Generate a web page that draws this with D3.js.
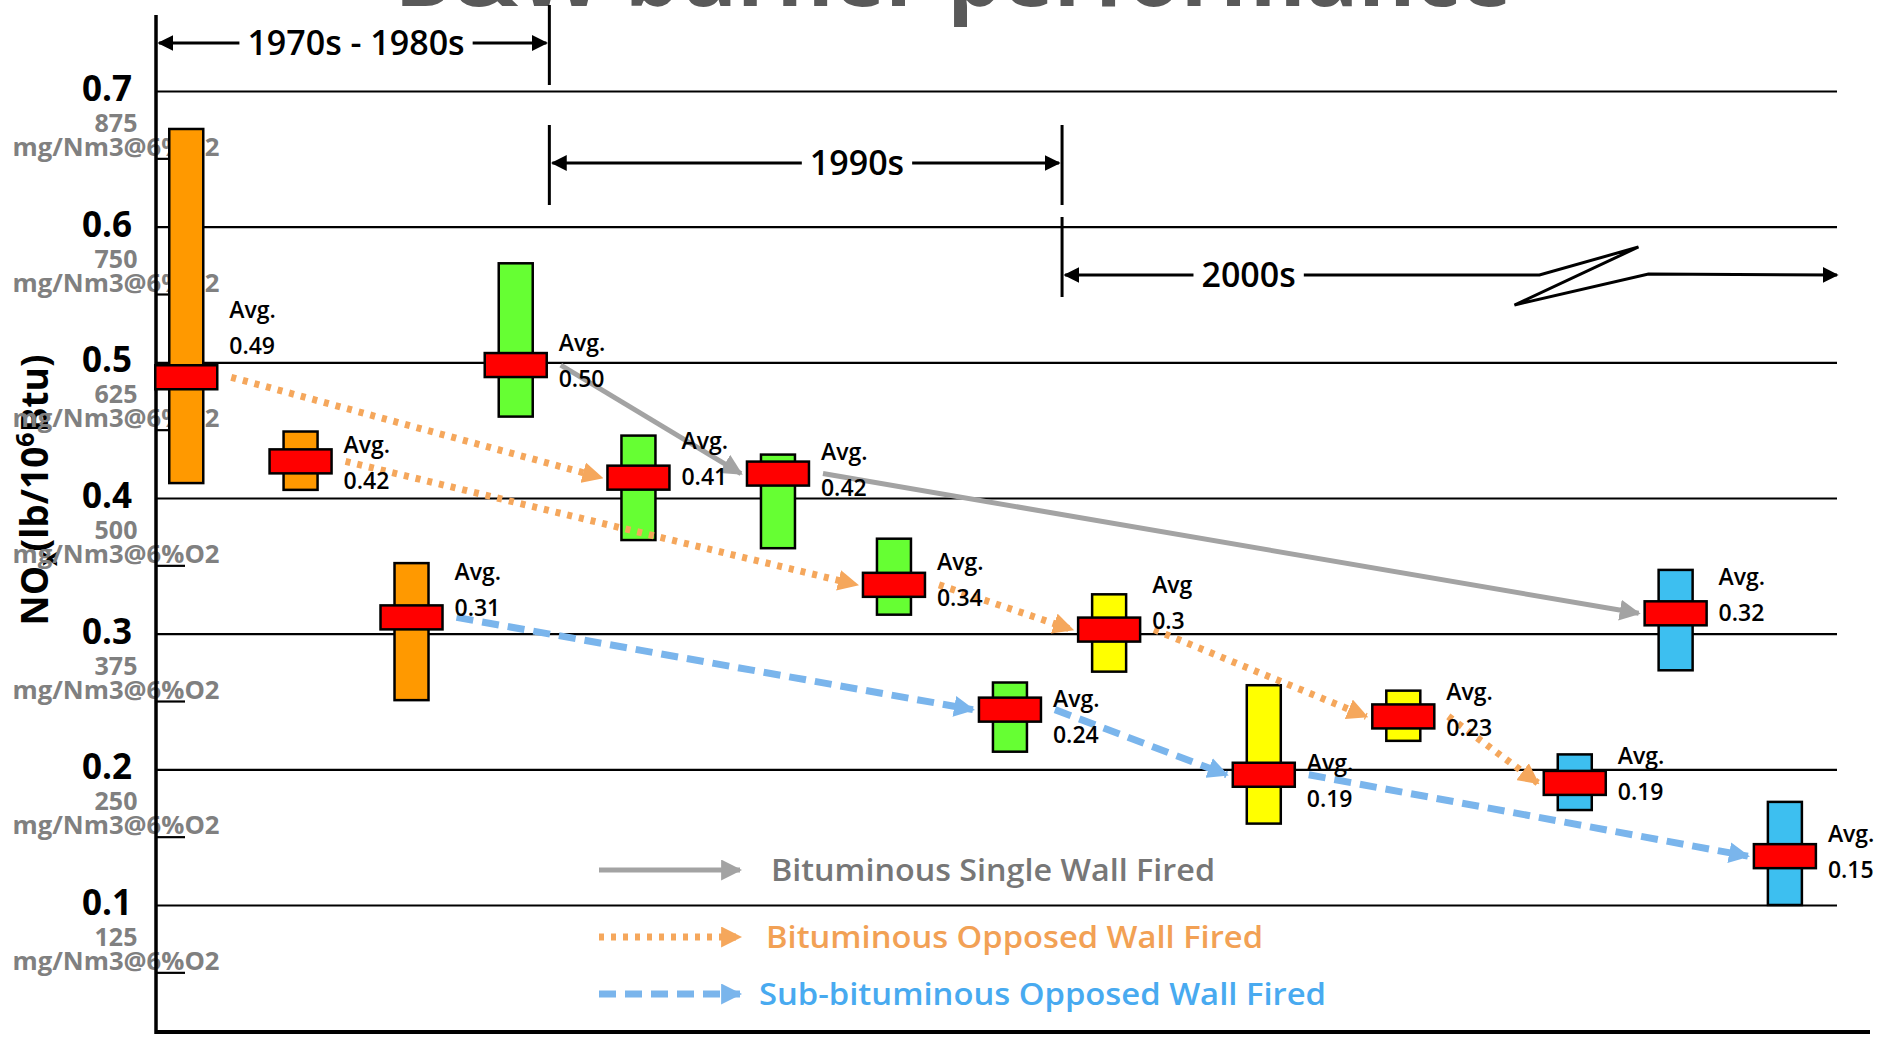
<!DOCTYPE html>
<html>
<head>
<meta charset="utf-8">
<style>
  html, body { margin: 0; padding: 0; background: #fff; overflow: hidden; }
  svg { display: block; font-family: "Open Sans", "Noto Sans", sans-serif; }
</style>
<script src="https://cdn.jsdelivr.net/npm/d3@7"></script>
</head>
<body>
<svg width="1883" height="1037"></svg>
<script>
// ** DATA ** //
// position of each burner along the (unlabelled) timeline, 0 = y axis, 100 = right end
const slots = [1.8, 8.6, 15.2, 21.4, 28.7, 37.0, 43.9, 50.8, 56.7, 65.9, 74.2, 84.4, 90.4, 96.9];
// NOx range (lb/10^6 Btu)
const lows = [0.411, 0.406, 0.251, 0.46, 0.369, 0.363, 0.314, 0.213, 0.272, 0.16, 0.221, 0.17, 0.273, 0.10];
const highs = [0.672, 0.449, 0.352, 0.573, 0.446, 0.432, 0.37, 0.264, 0.329, 0.262, 0.258, 0.211, 0.347, 0.176];
// where the red average bar sits
const avgs = [0.489, 0.427, 0.312, 0.498, 0.415, 0.418, 0.336, 0.244, 0.303, 0.196, 0.239, 0.19, 0.315, 0.136];
const avgWords = ["Avg.", "Avg.", "Avg.", "Avg.", "Avg.", "Avg.", "Avg.", "Avg.", "Avg", "Avg.", "Avg.", "Avg.", "Avg.", "Avg."];
const avgValues = ["0.49", "0.42", "0.31", "0.50", "0.41", "0.42", "0.34", "0.24", "0.3", "0.19", "0.23", "0.19", "0.32", "0.15"];
const groups = ["orange", "orange", "orange", "green", "green", "green", "green", "green", "yellow", "yellow", "yellow", "blue", "blue", "blue"];

const yTicks = [0.1, 0.2, 0.3, 0.4, 0.5, 0.6, 0.7];
const mgTicks = ["125", "250", "375", "500", "625", "750", "875"];
const minorTicks = [0.05, 0.15, 0.25, 0.35, 0.45, 0.55, 0.65];

const seriesNames = ["Bituminous Single Wall Fired", "Bituminous Opposed Wall Fired", "Sub-bituminous  Opposed Wall Fired"];
// trend arrows: [from burner, to burner, series]
const trendLinks = [
  [3, 5, 0], [5, 12, 0],
  [0, 4, 1], [1, 6, 1], [6, 8, 1], [8, 10, 1], [10, 11, 1],
  [2, 7, 2], [7, 9, 2], [9, 13, 2]
];

const periodNames = ["1970s - 1980s", "1990s", "2000s"];
const periodStart = [0, 23.4, 53.9];
const periodEnd = [23.4, 53.9, 100];
const periodLabelAt = [11.9, 41.7, 65.0];
const periodBreakAt = 82.3;

// ** STYLE ** //
const fills = { orange: "#ff9900", green: "#66ff33", yellow: "#ffff00", blue: "#3dbff0" };
const seriesStyle = [
  { stroke: "#a3a3a3", dash: null, width: 5, text: "#777777" },
  { stroke: "#f5a75c", dash: "5 7", width: 7, text: "#f2a155" },
  { stroke: "#7ab5ec", dash: "17 9", width: 7, text: "#48aaf0" }
];
const legendTextLength = [444, 497, 567];

const svg = d3.select("svg");
const x = d3.scaleLinear().domain([0, 100]).range([156, 1837]);
const y = d3.scaleLinear().domain([0.1, 0.7]).range([905, 91]);

const boxW = 34, barW = 62, barH = 24;

// arrow heads
const defs = svg.append("defs");
const addHead = (id, color, size) => {
  defs.append("marker")
    .attr("id", id)
    .attr("viewBox", "0 0 10 10")
    .attr("refX", 9).attr("refY", 5)
    .attr("markerUnits", "userSpaceOnUse")
    .attr("markerWidth", size).attr("markerHeight", size)
    .attr("orient", "auto-start-reverse")
    .append("path").attr("d", "M0,0 L10,5 L0,10 z").attr("fill", color);
};
seriesStyle.forEach((s, i) => addHead("head" + i, s.stroke, 21));
addHead("headBlack", "#000", 16);

// ** TITLE ** //
svg.append("text")
  .attr("x", 953).attr("y", 6)
  .attr("text-anchor", "middle")
  .attr("font-size", 87).attr("font-weight", 700)
  .attr("fill", "#595959")
  .text("B&W burner performance");

// ** GRID + Y AXIS ** //
const axisG = svg.append("g")
  .attr("transform", `translate(${x(0)},0)`)
  .call(d3.axisLeft(y)
    .tickValues(yTicks)
    .tickSizeInner(-(x(100) - x(0)))
    .tickSizeOuter(0)
    .tickPadding(24)
    .tickFormat(d3.format(".1f")));
axisG.select(".domain").remove();
axisG.selectAll(".tick line").attr("stroke", "#000").attr("stroke-width", 2.2);
axisG.selectAll(".tick text")
  .attr("font-size", 35).attr("font-weight", 700)
  .attr("font-family", "'Open Sans', sans-serif")
  .attr("fill", "#000").attr("dy", "0.27em");

// minor ticks
svg.append("g").selectAll("line")
  .data(minorTicks).join("line")
  .attr("x1", x(0)).attr("x2", x(0) + 29)
  .attr("y1", d => y(d)).attr("y2", d => y(d))
  .attr("stroke", "#000").attr("stroke-width", 2.2);

// y axis title (drawn before mg labels, they overlap it)
const yTitle = svg.append("text")
  .attr("transform", "translate(48,490) rotate(-90)")
  .attr("text-anchor", "middle")
  .attr("font-size", 37).attr("font-weight", 700)
  .attr("fill", "#000");
yTitle.append("tspan").text("NO");
yTitle.append("tspan").attr("font-size", 25).attr("dy", 9).text("x");
yTitle.append("tspan").attr("dy", -9).text("(lb/10");
yTitle.append("tspan").attr("font-size", 25).attr("dy", -14).text("6");
yTitle.append("tspan").attr("dy", 14).text("Btu)");

// mg/Nm3 labels under each tick
const mg = svg.append("g").attr("fill", "#808080").attr("font-weight", 700).attr("text-anchor", "middle");
mg.selectAll("text.num")
  .data(yTicks).join("text").attr("class", "num")
  .attr("x", 116).attr("y", d => y(d) + 41)
  .attr("font-size", 25)
  .text((d, i) => mgTicks[i]);
mg.selectAll("text.unit")
  .data(yTicks).join("text").attr("class", "unit")
  .attr("x", 116).attr("y", d => y(d) + 65)
  .attr("font-size", 25)
  .attr("textLength", 207).attr("lengthAdjust", "spacingAndGlyphs")
  .text("mg/Nm3@6%O2");

// axis lines
svg.append("line")
  .attr("x1", x(0)).attr("x2", x(0)).attr("y1", 15).attr("y2", 1034)
  .attr("stroke", "#000").attr("stroke-width", 3.5);
svg.append("line")
  .attr("x1", x(0)).attr("x2", 1870).attr("y1", 1032).attr("y2", 1032)
  .attr("stroke", "#000").attr("stroke-width", 4);

// ** PERIOD ANNOTATIONS ** //
const rowY = [43, 163, 275];
const barSpan = [[5, 85], [125, 205], [217, 297]];
const per = svg.append("g");
periodNames.forEach((name, i) => {
  const yy = rowY[i];
  const t = per.append("text")
    .attr("x", x(periodLabelAt[i])).attr("y", yy + 12)
    .attr("text-anchor", "middle")
    .attr("font-size", 34).attr("font-weight", 600)
    .text(name);
  const half = t.node().getComputedTextLength() / 2;
  const left = x(periodLabelAt[i]) - half - 8;
  const right = x(periodLabelAt[i]) + half + 8;

  // vertical limit bars
  const bars = i === 0 ? [periodEnd[i]] : i === 1 ? [periodStart[i], periodEnd[i]] : [periodStart[i]];
  bars.forEach(b => {
    per.append("line")
      .attr("x1", x(b)).attr("x2", x(b))
      .attr("y1", barSpan[i][0]).attr("y2", barSpan[i][1])
      .attr("stroke", "#000").attr("stroke-width", 3);
  });

  per.append("line")
    .attr("x1", left).attr("x2", x(periodStart[i]) + 3)
    .attr("y1", yy).attr("y2", yy)
    .attr("stroke", "#000").attr("stroke-width", 3)
    .attr("marker-end", "url(#headBlack)");

  if (i < 2) {
    per.append("line")
      .attr("x1", right).attr("x2", x(periodEnd[i]) - 3)
      .attr("y1", yy).attr("y2", yy)
      .attr("stroke", "#000").attr("stroke-width", 3)
      .attr("marker-end", "url(#headBlack)");
  } else {
    // axis break on the open-ended 2000s arrow
    const bx = x(periodBreakAt);
    const p = d3.path();
    p.moveTo(right, yy);
    p.lineTo(bx, yy);
    p.lineTo(bx + 99, yy - 28);
    p.lineTo(bx - 25, yy + 30);
    p.lineTo(bx + 109, yy - 1);
    p.lineTo(x(periodEnd[i]), yy);
    per.append("path")
      .attr("d", p.toString())
      .attr("fill", "none")
      .attr("stroke", "#000").attr("stroke-width", 3).attr("stroke-linejoin", "miter")
      .attr("marker-end", "url(#headBlack)");
  }
});

// ** BURNER RANGES ** //
const idx = d3.range(slots.length);
const boxes = svg.append("g");
boxes.selectAll("rect.range")
  .data(idx).join("rect").attr("class", "range")
  .attr("x", i => x(slots[i]) - boxW / 2)
  .attr("width", boxW)
  .attr("y", i => y(highs[i]))
  .attr("height", i => y(lows[i]) - y(highs[i]))
  .attr("fill", i => fills[groups[i]])
  .attr("stroke", "#000").attr("stroke-width", 2.5);
boxes.selectAll("rect.avg")
  .data(idx).join("rect").attr("class", "avg")
  .attr("x", i => x(slots[i]) - barW / 2)
  .attr("width", barW)
  .attr("y", i => y(avgs[i]) - barH / 2)
  .attr("height", barH)
  .attr("fill", "#ff0000")
  .attr("stroke", "#000").attr("stroke-width", 2.5);

// ** TREND ARROWS ** //
const trends = svg.append("g");
trends.selectAll("line")
  .data(trendLinks).join("line")
  .attr("x1", d => x(slots[d[0]]) + barW / 2 + 14)
  .attr("y1", d => y(avgs[d[0]]))
  .attr("x2", d => x(slots[d[1]]) - barW / 2 - 6)
  .attr("y2", d => y(avgs[d[1]]))
  .attr("stroke", d => seriesStyle[d[2]].stroke)
  .attr("stroke-width", d => seriesStyle[d[2]].width)
  .attr("stroke-dasharray", d => seriesStyle[d[2]].dash)
  .attr("marker-end", d => `url(#head${d[2]})`);

// ** AVG LABELS ** //
const labelLift = [-38, 13, -16, 7, -8, 7, 6, 18, -16, 17, 5, 2, -7, 7];
const labels = svg.append("g").attr("font-size", 23).attr("font-weight", 600).attr("fill", "#000");
labels.selectAll("text.word")
  .data(idx).join("text").attr("class", "word")
  .attr("x", i => x(slots[i]) + barW / 2 + 12)
  .attr("y", i => y(avgs[i]) - 21 + labelLift[i])
  .text(i => avgWords[i]);
labels.selectAll("text.val")
  .data(idx).join("text").attr("class", "val")
  .attr("x", i => x(slots[i]) + barW / 2 + 12)
  .attr("y", i => y(avgs[i]) + 15 + labelLift[i])
  .text(i => avgValues[i]);

// ** LEGEND ** //
const legendY = [870, 937, 994];
const legendTextX = [771, 766, 759];
const legend = svg.append("g");
seriesNames.forEach((name, i) => {
  const s = seriesStyle[i];
  legend.append("line")
    .attr("x1", 599).attr("x2", 740)
    .attr("y1", legendY[i]).attr("y2", legendY[i])
    .attr("stroke", s.stroke).attr("stroke-width", s.width)
    .attr("stroke-dasharray", s.dash)
    .attr("marker-end", `url(#head${i})`);
  legend.append("text")
    .attr("x", legendTextX[i]).attr("y", legendY[i] + 11)
    .attr("font-size", 30).attr("font-weight", 600)
    .attr("fill", s.text)
    .attr("textLength", legendTextLength[i]).attr("lengthAdjust", "spacingAndGlyphs")
    .text(name);
});
</script>
</body>
</html>
